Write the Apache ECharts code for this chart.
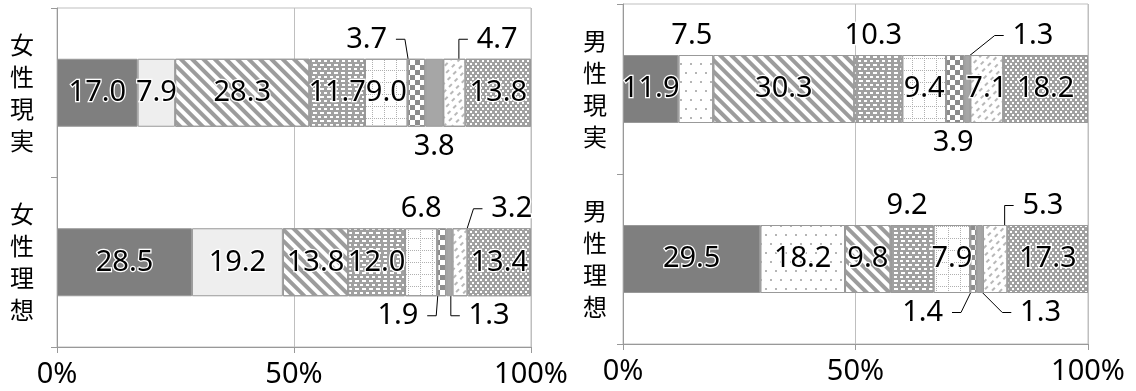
<!DOCTYPE html>
<html>
<head>
<meta charset="utf-8">
<script src="https://cdn.jsdelivr.net/npm/echarts@6/dist/echarts.min.js"></script>
<style>
    html, body { margin: 0; padding: 0; background: #fff; }
    #main { width: 1136px; height: 391px; }
</style>
</head>
<body>
<div id="main"></div>
<script>
    // 各パネルのカテゴリ
    var categoriesF = ['女性現実', '女性理想'];
    var categoriesM = ['男性現実', '男性理想'];
    // 積み上げの値 (%)
    var femaleReal = [17.0, 7.9, 28.3, 11.7, 9.0, 3.7, 3.8, 4.7, 13.8];
    var femaleIdeal = [28.5, 19.2, 13.8, 12.0, 6.8, 1.9, 1.3, 3.2, 13.4];
    var maleReal = [11.9, 7.5, 30.3, 10.3, 9.4, 3.9, 1.3, 7.1, 18.2];
    var maleIdeal = [29.5, 18.2, 9.8, 9.2, 7.9, 1.4, 1.3, 5.3, 17.3];
    var xTicks = [0, 50, 100];

    var chart = echarts.init(document.getElementById('main'));
    var gray = '#a0a0a0';

    // 棒の外に出すラベル  key: panel-row-segment
    var outside = {
        '0-0-5': { pos: 'top', dx: -46, line: true },
        '0-0-6': { pos: 'bottom', dx: 0 },
        '0-0-7': { pos: 'top', dx: 39, line: true },
        '0-1-4': { pos: 'top', dx: 0 },
        '0-1-5': { pos: 'bottom', dx: -40, line: true },
        '0-1-6': { pos: 'bottom', dx: 36, line: true },
        '0-1-7': { pos: 'top', dx: 48, line: true },
        '1-0-1': { pos: 'top', dx: -4 },
        '1-0-3': { pos: 'top', dx: -5 },
        '1-0-5': { pos: 'bottom', dx: -2 },
        '1-0-6': { pos: 'top', dx: 62, line: true },
        '1-1-3': { pos: 'top', dx: -5 },
        '1-1-5': { pos: 'bottom', dx: -47, line: true },
        '1-1-6': { pos: 'bottom', dx: 57, line: true },
        '1-1-7': { pos: 'top', dx: 44, line: true }
    };

    // 模様
    function segStyle(panel, seg) {
        switch (seg) {
            case 0: return { color: '#7f7f7f' };
            case 1:
                if (panel == 0) return { color: '#eeeeee' };
                return { color: '#fff', decal: { symbol: 'rect', dashArrayX: [[1.5, 7.5], [0, 4.5, 1.5, 3]], dashArrayY: [1.5, 6.5], color: '#b5b5b5' } };
            case 2: return { color: '#fff', decal: { symbol: 'rect', dashArrayX: [1, 0], dashArrayY: [3.5, 4], rotation: Math.PI / 4, color: '#9c9c9c' } };
            case 3: return { color: gray, decal: { symbol: 'rect', dashArrayX: [[3, 3], [1.5, 3, 1.5, 0]], dashArrayY: [2, 1.5], color: '#fff' } };
            case 4: return { color: '#fff', decal: { symbol: 'rect', dashArrayX: [[1, 1], [1, 11], [1, 11], [1, 11], [1, 11], [1, 11]], dashArrayY: [1, 1], color: '#b0b0b0' } };
            case 5: return { color: '#fff', decal: { symbol: 'rect', dashArrayX: [[5, 5], [0, 5, 5, 0]], dashArrayY: [5, 0], color: '#8c8c8c' } };
            case 6: return { color: '#a6a6a6' };
            case 7: return { color: '#fff', decal: { symbol: 'rect', dashArrayX: [[4, 4], [0, 4, 4, 0]], dashArrayY: [1.5, 3.5], rotation: -Math.PI / 4, color: '#b8b8b8' } };
            default: return { color: gray, decal: { symbol: 'rect', dashArrayX: [[1.5, 2.5], [0, 2, 1.5, 0.5]], dashArrayY: [1.5, 0.5], color: '#fff' } };
        }
    }

    function item(panel, row, seg, raw, total) {
        var d = { value: raw / total * 100, raw: raw, text: raw.toFixed(1) };
        var o = outside[panel + '-' + row + '-' + seg];
        if (o) {
            d.label = { position: o.pos, distance: 5 };
            if (o.line) {
                // 引き出し線との間に少し空きを入れる
                d.text = o.dx < 0 ? d.text + '\u00a0' : '\u00a0' + d.text;
                d.labelLine = { show: true, length2: 9, lineStyle: { color: '#000', width: 1 } };
            }
        }
        return d;
    }

    function sum(a) { return a.reduce(function (s, v) { return s + v; }, 0); }

    var panels = [[femaleReal, femaleIdeal], [maleReal, maleIdeal]];
    var series = [];
    panels.forEach(function (rows, p) {
        var totals = rows.map(sum);
        rows[0].forEach(function (_, s) {
            var st = segStyle(p, s);
            series.push({
                type: 'bar',
                stack: 'p' + p,
                xAxisIndex: p,
                yAxisIndex: p,
                barWidth: 68,
                data: rows.map(function (r, i) { return item(p, i, s, r[s], totals[i]); }),
                itemStyle: { color: st.color, decal: st.decal, borderColor: '#999', borderWidth: 1 },
                label: {
                    show: true,
                    position: 'inside',
                    fontFamily: 'Noto Sans',
                    fontSize: 29,
                    color: '#000',
                    textBorderColor: '#fff',
                    textBorderWidth: 2.5,
                    formatter: function (pr) { return pr.data.text; }
                },
                labelLayout: function (params) {
                    var o = outside[p + '-' + params.dataIndex + '-' + s];
                    return o ? { dx: o.dx } : {};
                },
                emphasis: { disabled: true }
            });
        });
    });

    function xAxis(idx) {
        return {
            type: 'value', gridIndex: idx, min: xTicks[0], max: xTicks[xTicks.length - 1], interval: xTicks[1] - xTicks[0],
            axisLine: { show: true, lineStyle: { color: '#999' } },
            axisTick: { show: true, length: 6, lineStyle: { color: '#999' } },
            splitLine: { show: true, lineStyle: { color: '#bfbfbf' } },
            axisLabel: { formatter: '{value}%', fontFamily: 'Noto Sans', fontSize: 29, color: '#000', margin: 13 }
        };
    }
    function yAxis(idx, cats, margin) {
        return {
            type: 'category', gridIndex: idx, inverse: true, data: cats,
            axisLine: { show: true, lineStyle: { color: '#999' } },
            axisTick: { show: true, length: 6, lineStyle: { color: '#999' } },
            axisLabel: {
                margin: margin, fontFamily: 'Noto Sans CJK JP', fontSize: 24, lineHeight: 32, color: '#000',
                formatter: function (v) { return v.split('').join('\n'); }
            }
        };
    }

    var option = {
        animation: false,
        grid: [
            { left: 57, top: 8, width: 474, height: 339, show: true, borderColor: '#bfbfbf', borderWidth: 1 },
            { left: 623, top: 4, width: 465, height: 340, show: true, borderColor: '#bfbfbf', borderWidth: 1 }
        ],
        xAxis: [xAxis(0), xAxis(1)],
        yAxis: [yAxis(0, categoriesF, 23), yAxis(1, categoriesM, 16)],
        series: series
    };
    option && chart.setOption(option);
</script>
</body>
</html>
